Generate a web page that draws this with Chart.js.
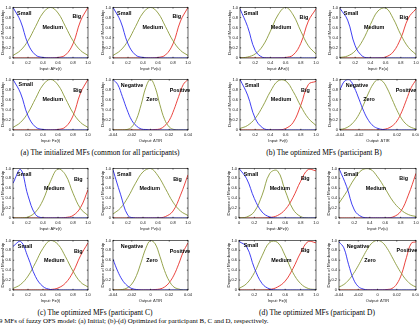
<!DOCTYPE html>
<html>
<head>
<meta charset="utf-8">
<script src="https://cdn.jsdelivr.net/npm/chart.js@4.4.1/dist/chart.umd.min.js"></script>
<style>
body { margin: 0; width: 419px; height: 325px; background: #fff; position: relative; overflow: hidden; }
canvas { position: absolute; }
.cap { position: absolute; font-family: "Liberation Serif", "Times New Roman", serif; font-size: 7.5px; color: #000; white-space: nowrap; transform: translate(-50%, -50%); }
.fig { position: absolute; font-family: "Liberation Serif", "Times New Roman", serif; font-size: 6.9px; color: #000; white-space: nowrap; left: -1px; top: 317px; }
</style>
</head>
<body>
<div class="cap" style="left:100px;top:152px">(a) The initialized MFs (common for all participants)</div>
<div class="cap" style="left:324px;top:152px">(b) The optimized MFs (participant B)</div>
<div class="cap" style="left:95px;top:312px">(c) The optimized MFs (participant C)</div>
<div class="cap" style="left:317px;top:312px">(d) The optimized MFs (participant D)</div>
<div class="fig">9 MFs of fuzzy OFS model: (a) Initial; (b)-(d) Optimized for participant B, C and D, respectively.</div>
<script>
// x grids
const inputX = [0, 0.1, 0.2, 0.3, 0.4, 0.5, 0.6, 0.7, 0.8, 0.9, 1];
const outputX = [-0.04, -0.035, -0.03, -0.025, -0.02, -0.015, -0.01, -0.005, 0, 0.005, 0.01, 0.015, 0.02, 0.025, 0.03, 0.035, 0.04];
const inputTicks = [0, 0.2, 0.4, 0.6, 0.8, 1];
const outputTicks = [-0.04, -0.02, 0, 0.02, 0.04];
const inputNames = ['Small', 'Medium', 'Big'];
const outputNames = ['Negative', 'Zero', 'Positive'];

// (a) initial MFs (same for the three inputs)
const aSmall  = [1, 0.73, 0.28, 0.06, 0.01, 0, 0, 0, 0, 0, 0];
const aMedium = [0.05, 0.15, 0.34, 0.62, 0.89, 1, 0.89, 0.62, 0.34, 0.15, 0.05];
const aBig    = [0, 0, 0, 0, 0, 0, 0.01, 0.06, 0.28, 0.73, 1];
const aNegative = [1, 0.9, 0.66, 0.4, 0.19, 0.08, 0.02, 0.01, 0, 0, 0, 0, 0, 0, 0, 0, 0];
const aZero     = [0, 0, 0, 0.01, 0.06, 0.21, 0.5, 0.84, 1, 0.84, 0.5, 0.21, 0.06, 0.01, 0, 0, 0];
const aPositive = [0, 0, 0, 0, 0, 0, 0, 0, 0, 0.01, 0.02, 0.08, 0.19, 0.4, 0.66, 0.9, 1];

// (b) participant B
const bAFSmall  = [0.97, 0.62, 0.15, 0.01, 0, 0, 0, 0, 0, 0, 0];
const bAFMedium = [0, 0.02, 0.08, 0.24, 0.53, 0.85, 1, 0.85, 0.53, 0.24, 0.08];
const bAFBig    = [0, 0, 0, 0, 0, 0, 0.01, 0.06, 0.29, 0.73, 0.97];
const bPSmall   = [0.98, 0.75, 0.24, 0.03, 0, 0, 0, 0, 0, 0, 0];
const bPMedium  = [0.01, 0.04, 0.14, 0.35, 0.66, 0.93, 0.99, 0.78, 0.46, 0.21, 0.07];
const bPBig     = [0, 0, 0, 0, 0, 0, 0.02, 0.12, 0.39, 0.79, 0.97];
const bFSmall   = [1, 0.69, 0.23, 0.04, 0, 0, 0, 0, 0, 0, 0];
const bFMedium  = [0.03, 0.09, 0.23, 0.47, 0.76, 0.97, 0.97, 0.76, 0.47, 0.23, 0.09];
const bFBig     = [0, 0, 0, 0, 0, 0, 0.03, 0.15, 0.49, 0.9, 0.96];
const bNegative = [0.8, 0.97, 0.99, 0.84, 0.61, 0.37, 0.19, 0.08, 0.03, 0.01, 0, 0, 0, 0, 0, 0, 0];
const bZero     = [0.01, 0.03, 0.08, 0.17, 0.31, 0.51, 0.73, 0.91, 1, 0.96, 0.81, 0.6, 0.39, 0.22, 0.11, 0.05, 0.02];
const bPositive = [0, 0, 0, 0, 0, 0, 0, 0, 0, 0.01, 0.03, 0.08, 0.18, 0.36, 0.6, 0.84, 0.99];

// (c) participant C
const cAFSmall  = [0.7, 0.98, 0.45, 0.07, 0, 0, 0, 0, 0, 0, 0];
const cAFMedium = [0, 0, 0.02, 0.12, 0.36, 0.74, 0.99, 0.87, 0.5, 0.19, 0.05];
const cAFBig    = [0, 0, 0, 0, 0, 0, 0, 0.01, 0.05, 0.21, 0.57];
const cPSmall   = [0.97, 0.48, 0.05, 0, 0, 0, 0, 0, 0, 0, 0];
const cPMedium  = [0.08, 0.2, 0.42, 0.7, 0.93, 1, 0.85, 0.59, 0.32, 0.14, 0.05];
const cPBig     = [0, 0, 0, 0, 0, 0, 0, 0.03, 0.14, 0.46, 0.87];
const cFSmall   = [0.88, 0.98, 0.66, 0.27, 0.07, 0.01, 0, 0, 0, 0, 0];
const cFMedium  = [0.03, 0.11, 0.28, 0.55, 0.84, 1, 0.92, 0.67, 0.38, 0.16, 0.06];
const cFBig     = [0, 0, 0, 0, 0, 0.01, 0.04, 0.14, 0.36, 0.69, 0.95];
const cNegative = [0.62, 0.38, 0.2, 0.09, 0.03, 0.01, 0, 0, 0, 0, 0, 0, 0, 0, 0, 0, 0];
const cZero     = [0, 0, 0.01, 0.04, 0.12, 0.29, 0.56, 0.84, 1, 0.93, 0.68, 0.39, 0.18, 0.06, 0.02, 0, 0];
const cPositive = [0, 0, 0, 0, 0, 0, 0, 0, 0, 0.01, 0.02, 0.06, 0.15, 0.3, 0.52, 0.77, 0.95];

// (d) participant D
const dAFSmall  = [1, 0.79, 0.39, 0.12, 0.02, 0, 0, 0, 0, 0, 0];
const dAFMedium = [0, 0.02, 0.13, 0.46, 0.9, 0.95, 0.55, 0.18, 0.03, 0, 0];
const dAFBig    = [0, 0, 0, 0, 0.01, 0.05, 0.17, 0.41, 0.74, 0.98, 0.95];
const dPSmall   = [1, 0.63, 0.16, 0.02, 0, 0, 0, 0, 0, 0, 0];
const dPMedium  = [0.3, 0.53, 0.79, 0.97, 0.99, 0.83, 0.59, 0.34, 0.17, 0.07, 0.03];
const dPBig     = [0, 0, 0, 0, 0, 0, 0, 0.02, 0.13, 0.46, 0.9];
const dFSmall   = [0.98, 0.87, 0.44, 0.13, 0.02, 0, 0, 0, 0, 0, 0];
const dFMedium  = [0.03, 0.13, 0.35, 0.69, 0.96, 0.96, 0.69, 0.35, 0.13, 0.03, 0.01];
const dFBig     = [0, 0, 0, 0, 0.01, 0.06, 0.18, 0.43, 0.75, 0.98, 0.95];
const dNegative = [0.97, 0.85, 0.51, 0.22, 0.07, 0.02, 0, 0, 0, 0, 0, 0, 0, 0, 0, 0, 0];
const dZero     = [0.06, 0.11, 0.2, 0.33, 0.49, 0.67, 0.84, 0.96, 1, 0.96, 0.84, 0.67, 0.49, 0.33, 0.2, 0.11, 0.06];
const dPositive = [0, 0, 0, 0, 0, 0, 0, 0, 0, 0, 0.01, 0.03, 0.12, 0.32, 0.65, 0.94, 0.97];

// colours of the three MFs
const mfColors = ['#2a2af0', '#8a9a3a', '#e8302a'];

// each small plot: plot-area box on the page, data, axis title, where the MF names sit (data coords)
const plots = [
  // (a)
  { l: 13,  t: 6,   w: 75, h: 52, out: false, series: [aSmall, aMedium, aBig], title: 'Input: AFz(t)', pos: [[0.15, 0.88], [0.53, 0.6], [0.85, 0.81]] },
  { l: 113, t: 6,   w: 75, h: 52, out: false, series: [aSmall, aMedium, aBig], title: 'Input: Pz(u)',  pos: [[0.15, 0.88], [0.53, 0.6], [0.85, 0.81]] },
  { l: 13,  t: 78,  w: 75, h: 52, out: false, series: [aSmall, aMedium, aBig], title: 'Input: Fz(t)',  pos: [[0.17, 0.9], [0.53, 0.6], [0.86, 0.79]] },
  { l: 113, t: 78,  w: 75, h: 52, out: true,  series: [aNegative, aZero, aPositive], title: 'Output: ΔTIR', pos: [[-0.0197, 0.88], [0.0016, 0.6], [0.0315, 0.79]] },
  // (b)
  { l: 240, t: 6,   w: 76, h: 52, out: false, series: [bAFSmall, bAFMedium, bAFBig], title: 'Input: AFz(t)', pos: [[0.145, 0.88], [0.54, 0.6], [0.84, 0.8]] },
  { l: 340, t: 6,   w: 76, h: 52, out: false, series: [bPSmall, bPMedium, bPBig], title: 'Input: Pz(u)', pos: [[0.145, 0.88], [0.45, 0.6], [0.84, 0.8]] },
  { l: 240, t: 78,  w: 76, h: 52, out: false, series: [bFSmall, bFMedium, bFBig], title: 'Input: Fz(t)', pos: [[0.16, 0.88], [0.54, 0.6], [0.86, 0.79]] },
  { l: 340, t: 78,  w: 76, h: 52, out: true,  series: [bNegative, bZero, bPositive], title: 'Output: ΔTIR', pos: [[-0.0221, 0.88], [-0.0095, 0.6], [0.0295, 0.79]] },
  // (c)
  { l: 13,  t: 167, w: 75, h: 51, out: false, series: [cAFSmall, cAFMedium, cAFBig], title: 'Input: AFz(t)', pos: [[0.15, 0.88], [0.55, 0.59], [0.87, 0.78]] },
  { l: 113, t: 167, w: 75, h: 51, out: false, series: [cPSmall, cPMedium, cPBig], title: 'Input: Pz(u)', pos: [[0.15, 0.88], [0.49, 0.59], [0.86, 0.78]] },
  { l: 13,  t: 239, w: 75, h: 51, out: false, series: [cFSmall, cFMedium, cFBig], title: 'Input: Fz(t)', pos: [[0.16, 0.88], [0.55, 0.59], [0.87, 0.78]] },
  { l: 113, t: 239, w: 75, h: 51, out: true,  series: [cNegative, cZero, cPositive], title: 'Output: ΔTIR', pos: [[-0.0197, 0.88], [0.0016, 0.59], [0.0315, 0.78]] },
  // (d)
  { l: 239, t: 167, w: 77, h: 51, out: false, series: [dAFSmall, dAFMedium, dAFBig], title: 'Input: AFz(t)', pos: [[0.155, 0.88], [0.53, 0.59], [0.86, 0.8]] },
  { l: 339, t: 167, w: 77, h: 51, out: false, series: [dPSmall, dPMedium, dPBig], title: 'Input: Pz(u)', pos: [[0.155, 0.88], [0.48, 0.59], [0.84, 0.8]] },
  { l: 239, t: 239, w: 77, h: 51, out: false, series: [dFSmall, dFMedium, dFBig], title: 'Input: Fz(t)', pos: [[0.155, 0.9], [0.55, 0.59], [0.86, 0.8]] },
  { l: 339, t: 239, w: 77, h: 51, out: true,  series: [dNegative, dZero, dPositive], title: 'Output: ΔTIR', pos: [[-0.0203, 0.88], [-0.0078, 0.59], [0.0306, 0.8]] }
];

const AXIS_W = 13, AXIS_H = 13, PAD_T = 3, PAD_R = 6;
const tickFont = { family: 'Liberation Sans', size: 4 };

// box round the plot area, small inward ticks, and the MF names
const mfPlugin = {
  id: 'mfBox',
  afterDatasetsDraw(chart, args, opts) {
    const { ctx, chartArea: a, scales: { x, y } } = chart;
    ctx.save();
    ctx.strokeStyle = '#000';
    ctx.lineWidth = 0.6;
    ctx.strokeRect(a.left, a.top, a.width, a.height);
    ctx.beginPath();
    x.ticks.forEach(t => {
      const px = x.getPixelForValue(t.value);
      ctx.moveTo(px, a.bottom); ctx.lineTo(px, a.bottom - 1.2);
      ctx.moveTo(px, a.top); ctx.lineTo(px, a.top + 1.2);
    });
    y.ticks.forEach(t => {
      const py = y.getPixelForValue(t.value);
      ctx.moveTo(a.left, py); ctx.lineTo(a.left + 1.2, py);
      ctx.moveTo(a.right, py); ctx.lineTo(a.right - 1.2, py);
    });
    ctx.stroke();
    ctx.font = 'bold 5.4px "Liberation Sans"';
    ctx.fillStyle = '#000';
    ctx.textAlign = 'center';
    ctx.textBaseline = 'middle';
    opts.names.forEach((n, i) => {
      ctx.fillText(n, x.getPixelForValue(opts.pos[i][0]), y.getPixelForValue(opts.pos[i][1]));
    });
    ctx.restore();
  }
};

plots.forEach(p => {
  const cv = document.createElement('canvas');
  const cw = AXIS_W + p.w + PAD_R, ch = PAD_T + p.h + AXIS_H;
  cv.width = cw; cv.height = ch;
  cv.style.left = (p.l - AXIS_W) + 'px';
  cv.style.top = (p.t - PAD_T) + 'px';
  cv.style.width = cw + 'px'; cv.style.height = ch + 'px';
  document.body.appendChild(cv);

  const xs = p.out ? outputX : inputX;
  const names = p.out ? outputNames : inputNames;
  const xticks = p.out ? outputTicks : inputTicks;

  new Chart(cv.getContext('2d'), {
    type: 'line',
    data: {
      datasets: p.series.map((s, i) => ({
        label: names[i],
        data: xs.map((xv, k) => ({ x: xv, y: s[k] })),
        borderColor: mfColors[i],
        borderWidth: 0.9,
        pointRadius: 0,
        tension: 0.4,
        fill: false
      }))
    },
    options: {
      responsive: false,
      animation: false,
      devicePixelRatio: 1,
      layout: { padding: { top: PAD_T, right: PAD_R, left: 0, bottom: 0 } },
      plugins: {
        legend: { display: false },
        tooltip: { enabled: false },
        mfBox: { names: names, pos: p.pos }
      },
      scales: {
        x: {
          type: 'linear',
          min: xticks[0], max: xticks[xticks.length - 1],
          afterBuildTicks: s => { s.ticks = xticks.map(v => ({ value: v })); },
          ticks: { font: tickFont, color: '#111', padding: 2, maxRotation: 0, autoSkip: false },
          grid: { display: false, drawTicks: false },
          border: { display: false },
          title: { display: true, text: p.title, font: { family: 'Liberation Sans', size: 4 }, color: '#111', padding: 0 },
          afterFit: s => { s.height = AXIS_H; }
        },
        y: {
          min: 0, max: 1,
          ticks: { stepSize: 0.2, font: tickFont, color: '#111', padding: 2 },
          grid: { display: false, drawTicks: false },
          border: { display: false },
          title: { display: true, text: 'Degree of Membership', font: { family: 'Liberation Sans', size: 4.4 }, color: '#111', padding: 0 },
          afterFit: s => { s.width = AXIS_W; }
        }
      }
    },
    plugins: [mfPlugin]
  });
});
</script>
</body>
</html>
